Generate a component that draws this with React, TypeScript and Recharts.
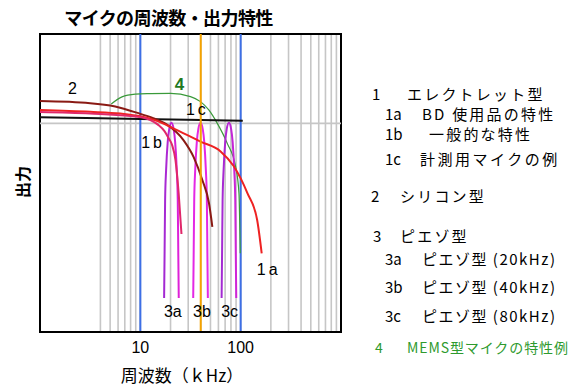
import React from 'react';
import {
  LineChart, Line, XAxis, YAxis, CartesianGrid, ReferenceLine, ReferenceArea, ReferenceDot,
} from 'recharts';

// ---- data (frequency in kHz, relative output) ----
const gridTicks = [4, 5, 6, 7, 8, 9, 10, 20, 30, 40, 50, 60, 70, 80, 90, 100, 200, 300, 400, 500, 600, 700, 800, 900];
const tickLabels = [10, 100];
const blueLines = [10, 100];
const orangeLines = [40];
const horizontalGrid = [70];

const curve1a = [
  { f: 1, v: 74.5 }, { f: 3.16, v: 73.9 }, { f: 6.31, v: 73.3 }, { f: 10.2, v: 72.3 },
  { f: 14.1, v: 71.0 }, { f: 22.4, v: 68.0 }, { f: 39.8, v: 63.9 }, { f: 63.1, v: 60.6 },
  { f: 85.1, v: 55.7 }, { f: 117, v: 46.5 }, { f: 146, v: 37.6 }, { f: 162, v: 26.4 },
];
const curve1b = [
  { f: 1, v: 73.8 }, { f: 3.16, v: 73.3 }, { f: 10.2, v: 72.1 }, { f: 12.6, v: 71.1 },
  { f: 15.1, v: 69.5 }, { f: 17.4, v: 67.4 }, { f: 19.1, v: 65.1 }, { f: 20.7, v: 62.8 },
  { f: 22.4, v: 57.7 }, { f: 24.1, v: 46.6 }, { f: 25.7, v: 32.9 },
];
const curve1c = [{ f: 1, v: 72.1 }, { f: 10, v: 71.5 }, { f: 105, v: 70.9 }];
const curve2 = [
  { f: 1, v: 77.5 }, { f: 3.16, v: 76.8 }, { f: 5.62, v: 75.7 }, { f: 10, v: 73.2 },
  { f: 14.1, v: 71.5 }, { f: 18.6, v: 69.5 }, { f: 26.9, v: 64.4 }, { f: 34.0, v: 58.7 },
  { f: 41.5, v: 51.0 }, { f: 48.3, v: 43.3 }, { f: 52.2, v: 35.3 },
];
const curve4 = [
  { f: 5.13, v: 76.5 }, { f: 6.56, v: 78.9 }, { f: 8.91, v: 79.8 }, { f: 12.6, v: 80.0 },
  { f: 20, v: 80.1 }, { f: 31.6, v: 79.0 }, { f: 39.8, v: 77.3 }, { f: 48.1, v: 74.5 },
  { f: 58.5, v: 70.0 }, { f: 73.5, v: 63.3 }, { f: 89.1, v: 55.5 }, { f: 96.2, v: 46.5 },
  { f: 99, v: 26.4 },
];
const curve3a = [
  { f: 17.26, v: 11.4 }, { f: 17.46, v: 27.5 }, { f: 17.66, v: 44.3 }, { f: 18.07, v: 54.4 },
  { f: 18.75, v: 63.8 }, { f: 19.41, v: 68.1 }, { f: 20.42, v: 70.2 }, { f: 21.48, v: 68.1 },
  { f: 22.23, v: 63.8 }, { f: 23.07, v: 54.4 }, { f: 23.6, v: 44.3 }, { f: 23.88, v: 27.5 },
  { f: 24.15, v: 11.4 },
];
const curve3b = [
  { f: 33.65, v: 11.4 }, { f: 34.04, v: 27.5 }, { f: 34.44, v: 44.3 }, { f: 35.24, v: 54.4 },
  { f: 36.56, v: 63.8 }, { f: 37.84, v: 68.1 }, { f: 39.81, v: 70.2 }, { f: 41.88, v: 68.1 },
  { f: 43.35, v: 63.8 }, { f: 44.98, v: 54.4 }, { f: 46.03, v: 44.3 }, { f: 46.56, v: 27.5 },
  { f: 47.1, v: 11.4 },
];
const curve3c = [
  { f: 64.57, v: 11.4 }, { f: 65.31, v: 27.5 }, { f: 66.07, v: 44.3 }, { f: 67.61, v: 54.4 },
  { f: 70.15, v: 63.8 }, { f: 72.61, v: 68.1 }, { f: 76.38, v: 70.2 }, { f: 80.35, v: 68.1 },
  { f: 83.18, v: 63.8 }, { f: 86.3, v: 54.4 }, { f: 88.31, v: 44.3 }, { f: 89.33, v: 27.5 },
  { f: 90.36, v: 11.4 },
];

const curveLabels = [
  { f: 2.1, v: 81.7, text: '2', color: '#000', bold: false },
  { f: 24.5, v: 83.2, text: '4', color: '#1f7a1f', bold: true },
  { f: 37, v: 74.6, text: '1c', color: '#000', bold: false },
  { f: 13.4, v: 63.6, text: '1b', color: '#000', bold: false },
  { f: 190, v: 21.1, text: '1a', color: '#000', bold: false },
  { f: 21.1, v: 7.0, text: '3a', color: '#000', bold: false },
  { f: 41.1, v: 7.0, text: '3b', color: '#000', bold: false },
  { f: 77.6, v: 7.0, text: '3c', color: '#000', bold: false },
];

const title = 'マイクの周波数・出力特性';
const xLabel = '周波数（ｋHz）';
const yLabel = '出力';

const legendItems = [
  { num: '1', numX: 372, text: 'エレクトレット型', textX: 407, y: 93, color: '#000', size: 15, sp: 2.2 },
  { num: '1a', numX: 385, text: 'BD 使用品の特性', textX: 422, y: 113.5, color: '#000', size: 15, sp: 2.2 },
  { num: '1b', numX: 385, text: '一般的な特性', textX: 429, y: 133.5, color: '#000', size: 15, sp: 2.2 },
  { num: '1c', numX: 385, text: '計測用マイクの例', textX: 420, y: 158.5, color: '#000', size: 15, sp: 2.5 },
  { num: '2', numX: 371, text: 'シリコン型', textX: 400, y: 195, color: '#000', size: 15, sp: 2.2 },
  { num: '3', numX: 373, text: 'ピエゾ型', textX: 400, y: 235.5, color: '#000', size: 15, sp: 2.2 },
  { num: '3a', numX: 385, text: 'ピエゾ型 (20kHz)', textX: 422, y: 258.5, color: '#000', size: 15, sp: 1.5 },
  { num: '3b', numX: 385, text: 'ピエゾ型 (40kHz)', textX: 422, y: 286.5, color: '#000', size: 15, sp: 1.5 },
  { num: '3c', numX: 385, text: 'ピエゾ型 (80kHz)', textX: 422, y: 315, color: '#000', size: 15, sp: 1.5 },
  { num: '4', numX: 375, text: 'MEMS型マイクの特性例', textX: 407, y: 347, color: '#2e9a2e', size: 14, sp: 0.9 },
];

const JP = '"Noto Sans CJK JP", "Noto Sans", sans-serif';
const LAT = '"Liberation Sans", Arial, sans-serif';

export default function App() {
  return (
    <div style={{ position: 'absolute', left: 0, top: 0, width: 582, height: 388, background: '#fff' }}>
      <LineChart width={582} height={388} margin={{ top: 34, right: 241, bottom: 26, left: 40 }}>
        <defs>
          <linearGradient id="g3a" x1="0" y1="0" x2="1" y2="0">
            <stop offset="0%" stopColor="#a22ad2" />
            <stop offset="100%" stopColor="#e020d8" />
          </linearGradient>
          <linearGradient id="g3c" x1="0" y1="0" x2="1" y2="0">
            <stop offset="0%" stopColor="#a22ad2" />
            <stop offset="100%" stopColor="#d024d8" />
          </linearGradient>
        </defs>
        <CartesianGrid horizontal={false} vertical stroke="#c6c6c6" strokeWidth={1.6} />
        <XAxis
          type="number"
          dataKey="f"
          scale="log"
          domain={[1, 1000]}
          allowDataOverflow
          ticks={gridTicks}
          interval={0}
          tickFormatter={(t: number) => (tickLabels.includes(t) ? String(t) : '')}
          tickLine={false}
          axisLine={{ stroke: '#000', strokeWidth: 2 }}
          height={30}
          tickMargin={4}
          tick={{ fill: '#000', fontSize: 16, fontFamily: LAT }}
        />
        <YAxis type="number" domain={[0, 100]} hide width={0} />
        {horizontalGrid.map((y) => (
          <ReferenceLine key={'h' + y} y={y} stroke="#c6c6c6" strokeWidth={1.6} />
        ))}
        {blueLines.map((x) => (
          <ReferenceLine key={'b' + x} x={x} stroke="#3d6fe6" strokeWidth={2} />
        ))}
        <Line data={curve4} dataKey="v" type="monotone" stroke="#3a9a3a" strokeWidth={1.2} dot={false} isAnimationActive={false} />
        <Line data={curve1c} dataKey="v" type="monotone" stroke="#111" strokeWidth={2} dot={false} isAnimationActive={false} />
        <Line data={curve3a} dataKey="v" type="monotone" stroke="url(#g3a)" strokeWidth={2} dot={false} isAnimationActive={false} />
        <Line data={curve3b} dataKey="v" type="monotone" stroke="#e428e4" strokeWidth={2} dot={false} isAnimationActive={false} />
        <Line data={curve3c} dataKey="v" type="monotone" stroke="url(#g3c)" strokeWidth={2} dot={false} isAnimationActive={false} />
        <Line data={curve2} dataKey="v" type="monotone" stroke="#8a1a14" strokeWidth={2} dot={false} isAnimationActive={false} />
        <Line data={curve1a} dataKey="v" type="monotone" stroke="#ee2222" strokeWidth={2} dot={false} isAnimationActive={false} />
        <Line data={curve1b} dataKey="v" type="monotone" stroke="#e0286a" strokeWidth={2} dot={false} isAnimationActive={false} />
        {orangeLines.map((x) => (
          <ReferenceLine key={'o' + x} x={x} stroke="#f5a300" strokeWidth={2} />
        ))}
        {curveLabels.map((l) => (
          <ReferenceDot
            key={l.text}
            x={l.f}
            y={l.v}
            r={0}
            fill="none"
            stroke="none"
            label={{
              value: l.text,
              position: 'center',
              fill: l.color,
              fontSize: l.bold ? 17 : 16,
              fontWeight: l.bold ? 'bold' : 'normal',
              fontFamily: LAT,
              letterSpacing: l.text.length > 1 && l.text[0] === '1' ? 3 : 0,
            }}
          />
        ))}
        <ReferenceArea x1={1} x2={1000} y1={0} y2={100} fill="none" fillOpacity={0} stroke="#000" strokeWidth={2} />
      </LineChart>
      <svg width={582} height={388} style={{ position: 'absolute', left: 0, top: 0, pointerEvents: 'none' }}>
        <text x={168.5} y={17} textAnchor="middle" dominantBaseline="central" fontFamily={JP} fontSize={18} fontWeight="bold" letterSpacing={-0.6} fill="#000">
          {title}
        </text>
        <text x={182} y={374} textAnchor="middle" dominantBaseline="central" fontFamily={JP} fontSize={17} fill="#000">
          {xLabel}
        </text>
        <text
          x={22}
          y={182}
          textAnchor="middle"
          dominantBaseline="central"
          fontFamily={JP}
          fontSize={16}
          fontWeight="bold"
          fill="#000"
          transform="rotate(-90 22 182)"
        >
          {yLabel}
        </text>
        {legendItems.map((it) => (
          <g key={it.num} fill={it.color}>
            <text x={it.numX} y={it.y} dominantBaseline="central" fontFamily={JP} fontSize={it.size}>
              {it.num}
            </text>
            <text x={it.textX} y={it.y} dominantBaseline="central" fontFamily={JP} fontSize={it.size} letterSpacing={it.sp}>
              {it.text}
            </text>
          </g>
        ))}
      </svg>
    </div>
  );
}
